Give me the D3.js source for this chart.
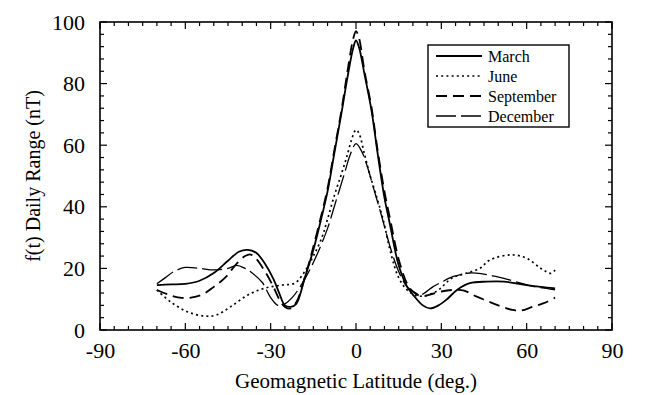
<!DOCTYPE html>
<html><head><meta charset="utf-8">
<script src="https://cdn.jsdelivr.net/npm/d3@7"></script>
<style>body{margin:0;background:#fff}svg{display:block}text{font-family:"Liberation Serif","Times New Roman",serif;fill:#000}</style>
</head><body><svg id="c" width="646" height="395"></svg>
<script>
const xTicks = [-90,-60,-30,0,30,60,90];
const yTicks = [0,20,40,60,80,100];
const seriesNames = ["March","June","September","December"];
const march = [[-70,14.6],[-65,14.8],[-60,15],[-55,16],[-50,18.5],[-45,22.5],[-41,25.5],[-38,26],[-35,25],[-32,21.5],[-29,16.5],[-27,12],[-25,8],[-23,7.5],[-21,8.5],[-18,17],[-15,26],[-12,37],[-10,45],[-7.5,58],[-5,71],[-3,82],[-1,91.5],[0,94],[1,92],[3,83],[5.5,71],[7.5,58],[10,43],[12,34],[15,21],[18,14],[20,11.5],[23.5,8],[26,7],[29,8],[32,10],[35.5,13],[40,15.2],[46,15.7],[52,15.7],[60,14.6],[65,14],[70,13.5]];
const june = [[-70,13],[-65,9],[-59,5.8],[-53,4.5],[-49,4.9],[-44,7.6],[-38,11.4],[-32,13.6],[-26,14.6],[-21.5,15.2],[-18,19],[-15,24],[-12,30],[-10,36],[-7.5,44],[-5,51],[-3,57],[-1.5,62],[0,65],[1,64],[3,57],[5,50],[7,44],[9.5,36],[12.5,24],[15,17],[18,13],[22,11],[28,12.4],[34,17],[39,18.5],[43.5,20],[47,22.7],[54.5,24.4],[60,23.3],[65,20],[68.5,18.4],[70,19.5]];
const september = [[-70,13],[-66,11.5],[-62,10.5],[-58,10.5],[-54,11.5],[-50,14],[-46,17],[-42,21.5],[-39,24],[-37,24.5],[-35,23],[-32,19],[-29,14],[-27,10],[-25,7.5],[-23,7],[-21,9],[-18,17],[-15,27],[-12,38],[-10,46],[-7.5,59],[-5,72],[-3,84],[-1,94.5],[0,97],[1,95],[3,84],[5.5,72],[7.5,59],[10,45],[12,36],[15,23],[18,15],[20,12.5],[23,11],[26,11.5],[30,12.5],[34,13],[38,12.8],[42,11],[46,9.5],[50,8],[55,6.5],[58,6.3],[62,7.5],[66,8.7],[70,10.5]];
const december = [[-70,15],[-67,17],[-64,19],[-60,20.3],[-55,20],[-50,19.5],[-45,20],[-42,21],[-39,20],[-36.5,18.5],[-33,15.5],[-30,10.5],[-27.5,8],[-25,8.5],[-22,11],[-19,15],[-16,20],[-13,26],[-10,33],[-7,42],[-4,51],[-2,57],[0,60.5],[2,58],[4,53],[6.5,45],[9,37],[12,27],[15,19],[18,14],[21,12],[23,11.5],[27,14],[30,15.5],[34,17.3],[37,18],[40,18.5],[44,18.3],[48,17.6],[52,16.8],[58,15.2],[63,14],[67,13.5],[70,13]];
const seriesData = [march, june, september, december];
const styles = [
  {dash:null, w:1.8},
  {dash:"2,3.2", w:1.7},
  {dash:"11,6", w:1.8},
  {dash:"20,5", w:1.3}
];

const svg = d3.select("#c");
const L=100,R=612,T=22,B=330;
const x = d3.scaleLinear().domain([-90,90]).range([L,R]);
const y = d3.scaleLinear().domain([0,100]).range([B,T]);

svg.append("rect").attr("x",L).attr("y",T).attr("width",R-L).attr("height",B-T)
  .attr("fill","none").attr("stroke","#000").attr("stroke-width",1.6);

const g = svg.append("g");
const xMinor = d3.range(-90,91,5), yMinor = d3.range(0,101,4);
function tick(x1,y1,x2,y2){g.append("line").attr("x1",x1).attr("y1",y1).attr("x2",x2).attr("y2",y2).attr("stroke","#000").attr("stroke-width",1.2);}
xMinor.forEach(v=>{const len = xTicks.includes(v)?7:4; tick(x(v),B,x(v),B-len); tick(x(v),T,x(v),T+len);});
yMinor.forEach(v=>{const len = yTicks.includes(v)?7:4; tick(L,y(v),L+len,y(v)); tick(R,y(v),R-len,y(v));});

const fmt = d => String(d);
const xa = svg.append("g").attr("transform",`translate(0,${B})`)
  .call(d3.axisBottom(x).tickValues(xTicks).tickSize(0).tickPadding(8).tickFormat(fmt));
const ya = svg.append("g").attr("transform",`translate(${L},0)`)
  .call(d3.axisLeft(y).tickValues(yTicks).tickSize(0).tickPadding(15).tickFormat(fmt));
[xa,ya].forEach(a=>{a.select(".domain").remove(); a.selectAll("text").attr("font-family","Liberation Serif").attr("font-size",22).attr("fill","#000");});
xa.selectAll("text").attr("dy","0.9em");

svg.append("text").attr("x",(L+R)/2).attr("y",388).attr("text-anchor","middle").attr("font-size",21).text("Geomagnetic Latitude (deg.)");
svg.append("text").attr("transform",`translate(40,${(T+B)/2}) rotate(-90)`).attr("text-anchor","middle").attr("font-size",20).text("f(t) Daily Range (nT)");

const line = d3.line().x(d=>x(d[0])).y(d=>y(d[1])).curve(d3.curveCatmullRom.alpha(0.5));
seriesData.forEach((s,i)=>{
  svg.append("path").attr("d",line(s)).attr("fill","none").attr("stroke","#000")
    .attr("stroke-width",styles[i].w).attr("stroke-dasharray",styles[i].dash).attr("stroke-linejoin","round");
});

const lg = svg.append("g");
lg.append("rect").attr("x",428).attr("y",45).attr("width",141).attr("height",82).attr("fill","#fff").attr("stroke","#000").attr("stroke-width",1.4);
seriesNames.forEach((n,i)=>{
  const yy = 56 + i*20;
  lg.append("line").attr("x1",436).attr("x2",482).attr("y1",yy).attr("y2",yy).attr("stroke","#000")
    .attr("stroke-width",styles[i].w).attr("stroke-dasharray",styles[i].dash);
  lg.append("text").attr("x",488).attr("y",yy+6).attr("font-size",16).text(n);
});
</script></body></html>
